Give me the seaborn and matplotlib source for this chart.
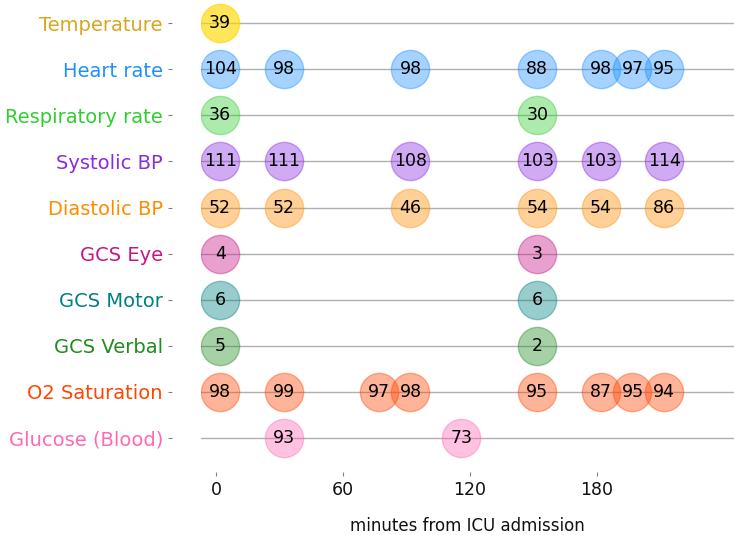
import matplotlib
matplotlib.use("Agg")
import matplotlib.pyplot as plt
import seaborn as sns
import pandas as pd

sns.set_style("white")
plt.rcParams["font.family"] = ["DejaVu Sans"]

# measurements (top to bottom), label colours and marker colours
names = ["Temperature", "Heart rate", "Respiratory rate", "Systolic BP", "Diastolic BP",
         "GCS Eye", "GCS Motor", "GCS Verbal", "O2 Saturation", "Glucose (Blood)"]
label_colors = ["goldenrod", "dodgerblue", "limegreen", "blueviolet", "darkorange",
                "mediumvioletred", "teal", "forestgreen", "orangered", "hotpink"]
marker_colors = ["gold", "dodgerblue", "limegreen", "blueviolet", "darkorange",
                 "mediumvioletred", "teal", "forestgreen", "orangered", "hotpink"]
marker_alpha = [0.65, 0.4, 0.4, 0.4, 0.4, 0.4, 0.4, 0.4, 0.4, 0.4]

# minutes from ICU admission and observed values per measurement
temperature_min = [2]
temperature = [39]
heart_min = [2, 32, 92, 152, 182, 197, 212]
heart = [104, 98, 98, 88, 98, 97, 95]
resp_min = [2, 152]
resp = [36, 30]
systolic_min = [2, 32, 92, 152, 182, 212]
systolic = [111, 111, 108, 103, 103, 114]
diastolic_min = [2, 32, 92, 152, 182, 212]
diastolic = [52, 52, 46, 54, 54, 86]
gcs_eye_min = [2, 152]
gcs_eye = [4, 3]
gcs_motor_min = [2, 152]
gcs_motor = [6, 6]
gcs_verbal_min = [2, 152]
gcs_verbal = [5, 2]
o2_min = [2, 32, 77, 92, 152, 182, 197, 212]
o2 = [98, 99, 97, 98, 95, 87, 95, 94]
glucose_min = [32, 116]
glucose = [93, 73]

xticks = [0, 60, 120, 180]

series = [(temperature_min, temperature), (heart_min, heart), (resp_min, resp),
          (systolic_min, systolic), (diastolic_min, diastolic), (gcs_eye_min, gcs_eye),
          (gcs_motor_min, gcs_motor), (gcs_verbal_min, gcs_verbal), (o2_min, o2),
          (glucose_min, glucose)]

rows = []
for i, (mins, vals) in enumerate(series):
    for m, v in zip(mins, vals):
        rows.append({"minutes": m, "row": i, "value": v, "name": names[i]})
df = pd.DataFrame(rows)

fig = plt.figure(figsize=(7.34, 5.35), dpi=100)
ax = fig.add_axes([0.274, 0.138, 0.726, 0.862])

for i, name in enumerate(names):
    sub = df[df["name"] == name]
    sns.scatterplot(data=sub, x="minutes", y="row", color=marker_colors[i], alpha=marker_alpha[i],
                    s=760, edgecolor=marker_colors[i], linewidth=1, ax=ax, legend=False, zorder=3)
    for _, r in sub.iterrows():
        ax.text(r["minutes"], r["row"], str(r["value"]), ha="center", va="center",
                fontsize=12.5, color="black", zorder=4)

ax.set_xlim(-7, 245)
ax.set_ylim(9.5, -0.5)
ax.set_ylabel("")
ax.set_xlabel("minutes from ICU admission", fontsize=12, labelpad=13, color="#111111")

ax.set_axisbelow(True)
ax.spines["left"].set_position(("outward", 21))
ax.spines["bottom"].set_position(("outward", 8))
for side in ["top", "right", "left", "bottom"]:
    ax.spines[side].set_visible(False)

# ticks after the spines are moved (moving a spine resets the ticks)
ax.set_yticks(range(len(names)))
ax.set_yticklabels(names)
ax.set_xticks(xticks)
ax.tick_params(axis="y", labelsize=14)
ax.tick_params(axis="x", labelsize=12.5, labelcolor="#111111")
ax.tick_params(left=True, bottom=True, length=3, width=0.8, color="grey")
for t, c in zip(ax.get_yticklabels(), label_colors):
    t.set_color(c)
ax.grid(axis="y", color="#b0b0b0", linewidth=1)
ax.grid(axis="x", visible=False)

fig.savefig("out.png", dpi=100)
